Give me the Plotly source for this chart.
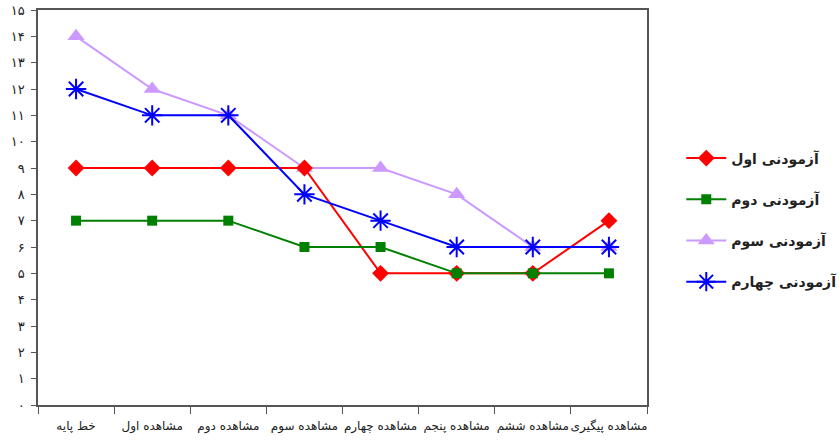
import plotly.graph_objects as go

categories = ["خط پایه", "مشاهده اول", "مشاهده دوم", "مشاهده سوم",
              "مشاهده چهارم", "مشاهده پنجم", "مشاهده ششم", "مشاهده پیگیری"]
s1 = [9, 9, 9, 9, 5, 5, 5, 7]
s2 = [7, 7, 7, 6, 6, 5, 5, 5]
s3 = [14, 12, 11, 9, 9, 8, 6, 6]
s4 = [12, 11, 11, 8, 7, 6, 6, 6]
names = ["آزمودنی اول", "آزمودنی دوم", "آزمودنی سوم", "آزمودنی چهارم"]
y_ticks = list(range(0, 16))
y_labels = ["۰", "۱", "۲", "۳", "۴", "۵", "۶", "۷", "۸", "۹", "۱۰", "۱۱", "۱۲", "۱۳", "۱۴", "۱۵"]

FONT = "DejaVu Sans"
fig = go.Figure()
fig.add_trace(go.Scatter(x=categories, y=s3, name=names[2], mode="lines+markers", legendrank=3,
                         legendgroup="g3",
                         line=dict(color="#CC99FF", width=2),
                         marker=dict(symbol="triangle-up", size=15, color="#CC99FF")))
fig.add_trace(go.Scatter(x=categories, y=s1, name=names[0], mode="lines+markers", legendrank=1,
                         legendgroup="g1",
                         line=dict(color="#FF0000", width=2),
                         marker=dict(symbol="diamond", size=13, color="#FF0000")))
fig.add_trace(go.Scatter(x=categories, y=s2, name=names[1], mode="lines+markers", legendrank=2,
                         legendgroup="g2",
                         line=dict(color="#008000", width=2),
                         marker=dict(symbol="square", size=10, color="#008000")))
fig.add_trace(go.Scatter(x=categories, y=s4, name=names[3], mode="lines+markers", legendrank=4,
                         legendgroup="g4",
                         line=dict(color="#0000FF", width=2),
                         marker=dict(symbol="asterisk-open", size=17, color="#0000FF",
                                     line=dict(color="#0000FF", width=2))))

fig.update_layout(
    width=839, height=440,
    margin=dict(l=38, r=192, t=10, b=35),
    paper_bgcolor="white", plot_bgcolor="white",
    font=dict(family=FONT, color="#222"),
    legend=dict(xref="container", yref="container", x=0.812, y=0.5, yanchor="middle", xanchor="left",
                font=dict(size=14, family=FONT, color="#222", weight="bold"),
                traceorder="grouped", tracegroupgap=20, itemwidth=40,
                bgcolor="rgba(0,0,0,0)"),
    showlegend=True,
)
fig.update_xaxes(type="category", tickson="boundaries", ticks="outside", ticklen=7,
                 tickcolor="#555", showline=True, linecolor="#555", linewidth=1.5, mirror=True,
                 showgrid=False, tickangle=0, automargin=False, ticklabelstandoff=9,
                 tickfont=dict(size=12, family=FONT, color="#222"),
                 range=[-0.5, 7.5], fixedrange=True)
fig.update_yaxes(range=[0, 15], tickvals=y_ticks, ticktext=y_labels, ticks="outside", ticklen=5,
                 tickcolor="#555", showline=True, linecolor="#555", linewidth=1.5, mirror=True,
                 showgrid=False, zeroline=False, automargin=False, ticklabelstandoff=4,
                 ticklabeloverflow="allow",
                 tickfont=dict(size=13, family=FONT, color="#222"))

fig.write_html("out.html", config={"displayModeBar": False},
               post_script="document.body.style.margin='0';")
